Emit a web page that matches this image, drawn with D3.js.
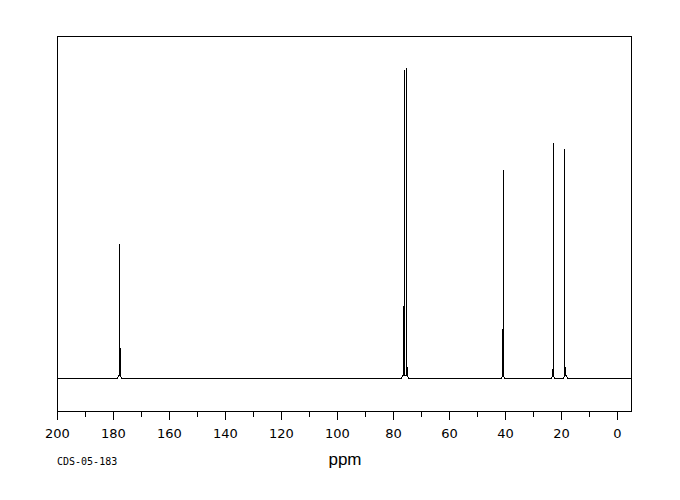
<!DOCTYPE html>
<html>
<head>
<meta charset="utf-8">
<script src="https://cdn.jsdelivr.net/npm/d3@7/dist/d3.min.js"></script>
<style>
  html, body { margin: 0; padding: 0; background: #fff; }
  svg { display: block; }
</style>
</head>
<body>
<svg id="chart" width="680" height="500"></svg>
<script>
// ---- data ----
// groups of lines: each group has a foot range and spike lines (ppm, relative intensity)
const groupFootLeft  = [178.6, 77.3, 41.6, 23.6, 19.3];
const groupFootRight = [177.1, 74.6, 40.3, 22.4, 17.9];
const spikePpm    = [177.86, 177.50, 76.43, 76.07, 75.36, 75.00, 41.07, 40.71, 23.21, 22.75, 18.93, 18.57];
const spikeHeight = [43.4,   10.0,   23.5,  99.4,  100.0, 3.9,   16.1,  67.2,  3.2,   75.9,  74.0,  3.9];
const spikeGroup  = [0, 0, 1, 1, 1, 1, 2, 2, 3, 3, 4, 4];
const xTickValues = [200, 190, 180, 170, 160, 150, 140, 130, 120, 110, 100, 90, 80, 70, 60, 50, 40, 30, 20, 10, 0];
const xLabelValues = [200, 180, 160, 140, 120, 100, 80, 60, 40, 20, 0];
const xDomain = [200, -5];
const yDomain = [-10.6, 110];
const axisTitle = "ppm";
const sampleId = "CDS-05-183";

// ---- layout ----
const L = 57, R = 631, T = 36, B = 411;
const svg = d3.select("#chart");
const x = d3.scaleLinear().domain(xDomain).range([L, R]);
const y = d3.scaleLinear().domain(yDomain).range([B, T]);
const px = v => Math.round(x(v)) + 0.5;
const py = v => Math.round(y(v)) + 0.5;

// plot frame
svg.append("rect")
  .attr("x", L + 0.5).attr("y", T + 0.5)
  .attr("width", R - L).attr("height", B - T)
  .attr("fill", "none").attr("stroke", "#000").attr("stroke-width", 1)
  .attr("shape-rendering", "crispEdges");

// spectrum polyline
const pts = [];
pts.push([xDomain[0], 0]);
groupFootLeft.forEach((fl, g) => {
  pts.push([fl, 0]);
  pts.push([fl - 0.35, 0.9]);
  spikePpm.forEach((p, i) => {
    if (spikeGroup[i] !== g) return;
    pts.push([p, 0.9]);
    pts.push([p, spikeHeight[i]]);
    pts.push([p, 0.9]);
  });
  pts.push([groupFootRight[g] + 0.35, 0.9]);
  pts.push([groupFootRight[g], 0]);
});
pts.push([xDomain[1], 0]);

const line = d3.line().x(d => px(d[0])).y(d => py(d[1]));
svg.append("path")
  .attr("d", line(pts))
  .attr("fill", "none").attr("stroke", "#000").attr("stroke-width", 1)
  .attr("shape-rendering", "crispEdges");

// ticks
const gx = svg.append("g");
gx.selectAll("line.tick").data(xTickValues).enter().append("line")
  .attr("x1", d => px(d)).attr("x2", d => px(d))
  .attr("y1", B + 0.5)
  .attr("y2", d => B + 0.5 + (xLabelValues.includes(d) ? 8 : 5))
  .attr("stroke", "#000").attr("stroke-width", 1)
  .attr("shape-rendering", "crispEdges");

gx.selectAll("text.lbl").data(xLabelValues).enter().append("text")
  .attr("x", d => Math.round(x(d)) + 0.5)
  .attr("y", 438)
  .attr("text-anchor", "middle")
  .attr("font-family", "DejaVu Sans, sans-serif")
  .attr("font-size", 13)
  .attr("fill", "#000")
  .text(d => d);

svg.append("text")
  .attr("x", 345).attr("y", 465)
  .attr("text-anchor", "middle")
  .attr("font-family", "Liberation Sans, Arial, sans-serif")
  .attr("font-size", 17)
  .attr("fill", "#000")
  .text(axisTitle);

svg.append("text")
  .attr("x", 57).attr("y", 465)
  .attr("font-family", "DejaVu Sans Mono, monospace")
  .attr("font-size", 10)
  .attr("fill", "#000")
  .text(sampleId);
</script>
</body>
</html>
